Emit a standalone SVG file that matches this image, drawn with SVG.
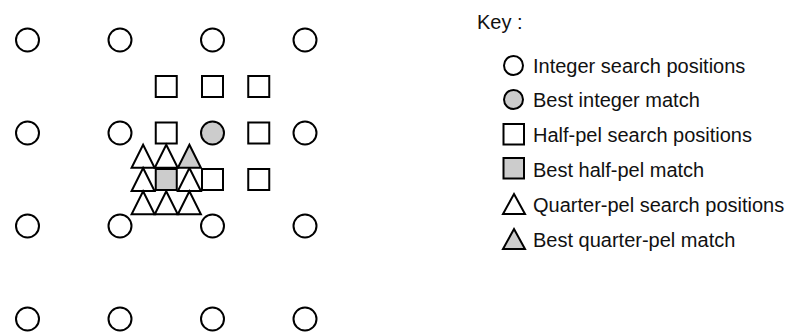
<svg xmlns="http://www.w3.org/2000/svg" width="791" height="336" viewBox="0 0 791 336">
<style>
.int{fill:#fff;stroke:#000;stroke-width:2}
.half{fill:#fff;stroke:#000;stroke-width:2}
.q{fill:#fff;stroke:#000;stroke-width:2;stroke-linejoin:miter}
.best{fill:#cccccc}
.lbl{font-family:"Liberation Sans",Arial,sans-serif;font-size:20px;fill:#111}
</style>
<defs>
<circle id="c" r="11.5"/>
<rect id="s" x="-10.5" y="-10.5" width="21" height="21"/>
<polygon id="t" points="0,-11.5 11.5,11.5 -11.5,11.5"/>
</defs>
<rect width="791" height="336" fill="#fff"/>
<g id="integer-positions">
<use href="#c" class="int" x="27.5" y="40"/><use href="#c" class="int" x="120" y="40"/><use href="#c" class="int" x="212.5" y="40"/><use href="#c" class="int" x="305" y="40"/>
<use href="#c" class="int" x="27.5" y="133"/><use href="#c" class="int" x="120" y="133"/><use href="#c" class="int" x="305" y="133"/>
<use href="#c" class="int" x="27.5" y="226"/><use href="#c" class="int" x="120" y="226"/><use href="#c" class="int" x="212.5" y="226"/><use href="#c" class="int" x="305" y="226"/>
<use href="#c" class="int" x="27.5" y="319"/><use href="#c" class="int" x="120" y="319"/><use href="#c" class="int" x="212.5" y="319"/><use href="#c" class="int" x="305" y="319"/>
</g>
<g id="best-integer">
<use href="#c" class="int best" x="212.5" y="133"/>
</g>
<g id="half-pel-positions">
<use href="#s" class="half" x="166.25" y="86.5"/><use href="#s" class="half" x="212.5" y="86.5"/><use href="#s" class="half" x="258.75" y="86.5"/>
<use href="#s" class="half" x="166.25" y="133"/><use href="#s" class="half" x="258.75" y="133"/>
<use href="#s" class="half" x="212.5" y="179.5"/><use href="#s" class="half" x="258.75" y="179.5"/>
</g>
<g id="best-half-pel">
<use href="#s" class="half best" x="166.25" y="179.5"/>
</g>
<g id="quarter-pel-positions">
<use href="#t" class="q" x="143.1" y="156.25"/><use href="#t" class="q" x="166.25" y="156.25"/>
<use href="#t" class="q" x="143.1" y="179.5"/><use href="#t" class="q" x="189.4" y="179.5"/>
<use href="#t" class="q" x="143.1" y="202.75"/><use href="#t" class="q" x="166.25" y="202.75"/><use href="#t" class="q" x="189.4" y="202.75"/>
</g>
<g id="best-quarter-pel">
<use href="#t" class="q best" x="189.4" y="156.25"/>
</g>
<g id="connectors"></g>
<g id="key">
<text class="lbl" x="477" y="29">Key :</text>
<g id="key-integer"><circle class="int" cx="513.5" cy="65.5" r="9.5"/><text class="lbl" x="533" y="72.5">Integer search positions</text></g>
<g id="key-best-integer"><circle class="int best" cx="513.5" cy="99.5" r="9.5"/><text class="lbl" x="533" y="107">Best integer match</text></g>
<g id="key-half-pel"><rect class="half" x="503.5" y="124" width="20.5" height="20.5"/><text class="lbl" x="533" y="142">Half-pel search positions</text></g>
<g id="key-best-half-pel"><rect class="half best" x="503.5" y="158" width="20.5" height="20.5"/><text class="lbl" x="533" y="177">Best half-pel match</text></g>
<g id="key-quarter-pel"><polygon class="q" points="514,194 525,214 503,214"/><text class="lbl" x="533" y="212">Quarter-pel search positions</text></g>
<g id="key-best-quarter-pel"><polygon class="q best" points="514,229 525,249 503,249"/><text class="lbl" x="533" y="247">Best quarter-pel match</text></g>
</g>
</svg>
